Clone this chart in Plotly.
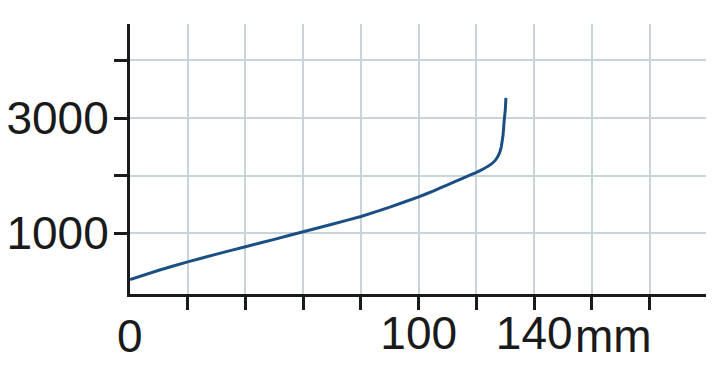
import plotly.graph_objects as go

# Data
travel_mm = [0, 10, 20, 30, 40, 50, 60, 70, 80, 90, 100, 105, 110, 115, 120, 122.5, 125, 126.5, 127.7, 128.6, 129.2, 129.6, 130.0, 130.2]
force = [200, 360, 505, 640, 768, 895, 1028, 1158, 1292, 1455, 1632, 1733, 1840, 1950, 2058, 2120, 2195, 2265, 2360, 2500, 2700, 2950, 3150, 3350]

x_tickvals = [20, 40, 60, 80, 100, 120, 140, 160, 180]
x_ticktext = ["", "", "", "", "100", "", "140", "", ""]
y_tickvals = [1000, 2000, 3000, 4000]
y_ticktext = ["1000", "", "3000", ""]
origin_label = "0"
unit_label = "mm"

FONT = "Liberation Sans, Arial, sans-serif"
FS = 46
LINE_COLOR = "#1b4f84"
GRID = "#c9d3da"
AXIS = "#1a1a1a"

L, R, T, B = 130, 6, 24, 89
W, H = 712, 383

fig = go.Figure()
fig.add_trace(go.Scatter(
    x=travel_mm, y=force, mode="lines",
    line=dict(color=LINE_COLOR, width=3, shape="spline", smoothing=0.1),
    hoverinfo="skip", showlegend=False,
))

fig.update_layout(
    width=W, height=H,
    margin=dict(l=L, r=R, t=T, b=B),
    paper_bgcolor="white", plot_bgcolor="white",
    font=dict(family=FONT, size=FS, color="#1a1a1a"),
    xaxis=dict(
        range=[0, 199.5], tickmode="array", tickvals=x_tickvals, ticktext=x_ticktext,
        ticks="outside", ticklen=13, tickwidth=3, tickcolor=AXIS,
        ticklabelstandoff=-16,
        showgrid=True, gridcolor=GRID, gridwidth=2,
        showline=True, linecolor=AXIS, linewidth=3,
        zeroline=False, fixedrange=True, automargin=False,
    ),
    yaxis=dict(
        range=[-52, 4630], tickmode="array", tickvals=y_tickvals, ticktext=y_ticktext,
        ticks="outside", ticklen=13, tickwidth=3, tickcolor=AXIS,
        ticklabelstandoff=-4,
        showgrid=True, gridcolor=GRID, gridwidth=2,
        showline=True, linecolor=AXIS, linewidth=3,
        zeroline=False, fixedrange=True, automargin=False,
    ),
    annotations=[
        dict(
            x=0, xref="x", y=0, yref="paper", yshift=-14,
            text=origin_label, showarrow=False, xanchor="center", yanchor="top",
            font=dict(family=FONT, size=FS, color="#1a1a1a"),
        ),
        dict(
            x=(573 - L) / (W - L - R), xref="paper", y=0, yref="paper", yshift=-14,
            text=unit_label, showarrow=False, xanchor="left", yanchor="top",
            font=dict(family=FONT, size=FS, color="#1a1a1a"),
        ),
    ],
)

fig.write_html("out.html")
